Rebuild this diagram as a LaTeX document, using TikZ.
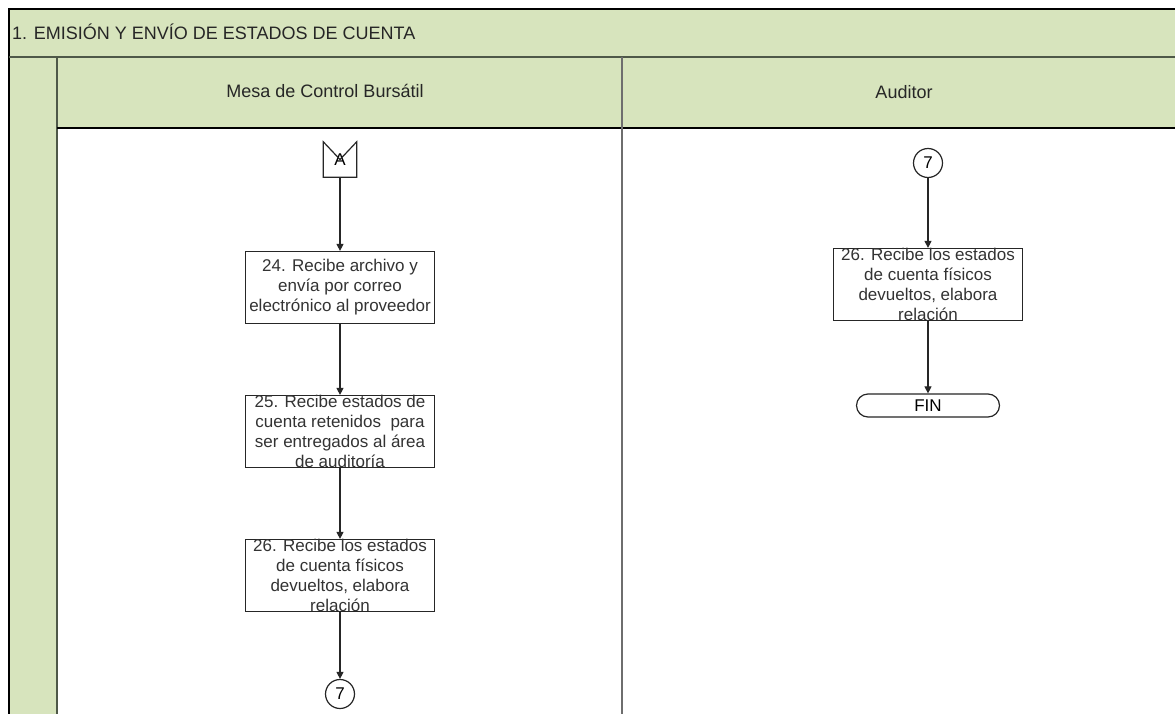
\documentclass[tikz,border=0pt]{standalone}
\usepackage{fontspec}
\setmainfont{Liberation Sans}
\usepackage{tikz}
\usetikzlibrary{math,arrows.meta,shapes.misc}
\definecolor{LaneGreen}{RGB}{215,228,189}
\definecolor{LaneLine}{RGB}{78,88,72}
\definecolor{SepGray}{RGB}{110,110,110}
\tikzset{%
  lane line/.style={line width=1.6pt, draw=LaneLine},
  lane sep/.style={line width=1.6pt, draw=SepGray},
  head text/.style={inner sep=0pt, text=black!85, font=\fontsize{18}{21}\selectfont},
  proc box/.style={draw=black!85, line width=1.2pt, minimum width=189pt, minimum height=72pt, inner sep=0pt},
  proc text/.style={align=center, inner sep=0pt, text=black!80, font=\fontsize{17}{20}\selectfont},
  conn circ/.style={draw=black!85, line width=1.2pt, circle, minimum size=29pt, inner sep=0pt, font=\fontsize{17}{20}\selectfont},
  offpage/.style={minimum width=33pt, minimum height=35pt, inner sep=0pt, font=\fontsize{17}{20}\selectfont},
  endbox/.style={draw=black!85, line width=1.2pt, rounded rectangle, minimum width=143pt, minimum height=23pt, inner sep=0pt, font=\fontsize{17}{20}\selectfont},
  flow/.style={line width=1.1pt, draw=black!85, -{Triangle[length=7pt,width=7pt]}}
}

\begin{document}
\begin{tikzpicture}[x=1pt,y=-1pt]
    \tikzmath{
      \picW=1175;
      \picH=714;
      \xleft=9;
      \xstrip=57;
      \ytop=9;
      \yband=57;
      \yhead=128;
      \xmid=622;
    }
    \clip (0,0) rectangle (\picW,\picH);
    \fill[white] (0,0) rectangle (\picW,\picH);
    % bands
    \fill[LaneGreen] (\xleft,\ytop) rectangle (\picW+5,\yband);
    \fill[LaneGreen] (\xleft,\yband) rectangle (\xstrip,\picH+5);
    \fill[LaneGreen] (\xstrip,\yband) rectangle (\picW+5,\yhead);
    \draw[lane line, draw=black] (\picW+5,\ytop) -- (\xleft,\ytop) -- (\xleft,\picH+5);
    \draw[lane line] (\xleft,\yband) -- (\picW+5,\yband);
    \draw[lane line] (\xstrip,\yband) -- (\xstrip,\picH+5);
    \draw[lane line, draw=black] (\xstrip,\yhead) -- (\picW+5,\yhead);
    \draw[lane sep] (\xmid,\yband) -- (\xmid,\picH+5);

    \node[head text, anchor=west] (title) at (12,32) {1. EMISIÓN Y ENVÍO DE ESTADOS DE CUENTA};
    \node[head text] (hMesa) at (325,91) {Mesa de Control Bursátil};
    \node[head text] (hAud) at (904,92) {Auditor};

    % Mesa de Control
    \node[offpage] (offA) at (340,159.5) {A};
    \draw[line width=1.2pt, draw=black!85] (offA.north west) -- (offA.south west) -- (offA.south east)
      -- (offA.north east) -- (offA.center) -- cycle;
    \node[proc box] (p24) at (340,287.5) {};
    \node[proc text] (t24) at (p24.center) {24. Recibe archivo y\\envía por correo\\electrónico al proveedor};
    \node[proc box] (p25) at (340,431.5) {};
    \node[proc text] (t25) at (p25.center) {25. Recibe estados de\\cuenta retenidos~ para\\ser entregados al área\\de auditoría};
    \node[proc box] (p26) at (340,575.5) {};
    \node[proc text] (t26) at (p26.center) {26. Recibe los estados\\de cuenta físicos\\devueltos, elabora\\relación};
    \node[conn circ] (c7a) at (340,694) {7};

    \draw[flow] (offA) -- (p24);
    \draw[flow] (p24) -- (p25);
    \draw[flow] (p25) -- (p26);
    \draw[flow] (p26) -- (c7a);

    % Auditor
    \node[conn circ] (c7b) at (928,163) {7};
    \node[proc box] (q26) at (928,284.5) {};
    \node[proc text] (u26) at (q26.center) {26. Recibe los estados\\de cuenta físicos\\devueltos, elabora\\relación};
    \node[endbox] (fin) at (928,405.5) {FIN};

    \draw[flow] (c7b) -- (q26);
    \draw[flow] (q26) -- (fin);
  \end{tikzpicture}
\end{document}
